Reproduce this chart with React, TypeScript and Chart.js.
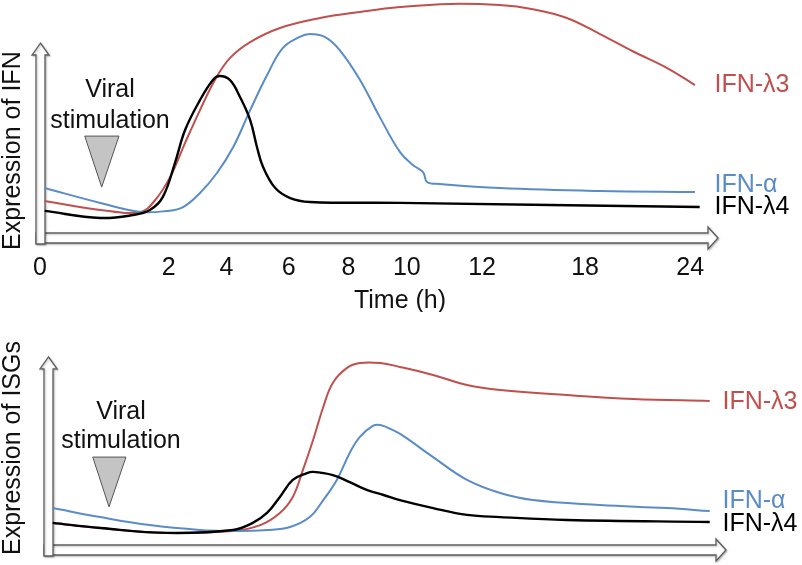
import { useEffect, useRef } from 'react';
import { Chart, registerables } from 'chart.js';

Chart.register(...registerables);

// ---- data ----
// Time axis of the schematic is not linear: tick labels (hours) at their axis positions (0-100 axis units)
const timeTickLabels = ['0', '2', '4', '6', '8', '10', '12', '18', '24'];
const timeTickPositions = [0, 19.0, 27.5, 36.7, 45.5, 54.1, 65.2, 80.4, 95.9];

const seriesNames = ['IFN-λ3', 'IFN-α', 'IFN-λ4'];

// Panel 1: expression of IFN — [axis position, relative expression (0-100)]
const ifnL3_IFN = [
  [0.7, 17.3], [8.9, 13.6], [14.8, 12.8], [17.0, 17.7], [19.2, 27.2], [21.4, 41.2],
  [23.6, 54.7], [25.8, 67.1], [28.0, 76.1], [31.0, 82.7], [35.4, 88.5], [41.3, 92.6],
  [47.2, 95.1], [53.1, 97.1], [60.5, 98.4], [67.8, 97.9], [72.7, 96.2], [77.7, 92.6],
  [82.6, 86.0], [87.5, 78.8], [92.5, 72.0], [96.6, 65.0],
];
const ifnA_IFN = [
  [0.7, 22.6], [8.9, 16.5], [14.8, 12.8], [18.7, 13.2], [21.1, 14.8], [23.6, 20.6],
  [26.1, 28.8], [28.5, 39.5], [31.0, 54.7], [33.5, 69.1], [35.8, 80.2], [38.3, 84.8],
  [39.8, 86.0], [42.0, 84.8], [44.2, 79.4], [47.2, 67.1], [50.1, 51.9], [53.1, 37.4],
  [55.0, 32.1], [56.5, 29.2], [57.1, 25.1], [59.0, 24.3], [67.8, 22.6], [82.6, 21.4],
  [96.6, 21.0],
];
const ifnL4_IFN = [
  [0.7, 13.2], [8.9, 10.3], [13.7, 11.5], [16.2, 13.6], [18.1, 18.9], [19.9, 32.9],
  [21.4, 46.5], [23.6, 58.8], [25.5, 67.1], [26.5, 68.7], [28.0, 67.1], [29.5, 60.1],
  [31.0, 50.6], [32.0, 39.5], [32.9, 31.3], [34.7, 22.6], [36.9, 18.5], [39.8, 16.9],
  [53.1, 16.5], [97.3, 14.8],
];

// Panel 2: expression of ISGs — [axis position, relative expression (0-100)]
const ifnL3_ISG = [
  [0.7, 13.2], [7.7, 11.1], [17.6, 9.1], [27.3, 9.9], [31.3, 12.3], [34.2, 17.3],
  [36.1, 23.9], [37.6, 35.0], [39.1, 47.3], [40.6, 60.9], [42.0, 70.8], [44.1, 77.0],
  [46.0, 79.0], [49.0, 79.0], [51.9, 77.4], [56.8, 74.1], [61.8, 70.0], [66.7, 67.9],
  [76.5, 65.8], [86.3, 64.2], [97.6, 63.4],
];
const ifnA_ISG = [
  [0.7, 19.3], [7.7, 15.6], [15.0, 12.3], [22.4, 10.3], [27.3, 9.9], [32.3, 10.3],
  [35.7, 11.5], [38.6, 15.6], [40.6, 22.6], [42.6, 30.9], [44.5, 42.0], [46.0, 48.6],
  [47.9, 53.1], [49.0, 53.5], [50.9, 51.4], [52.4, 49.0], [56.8, 40.3], [61.8, 30.9],
  [66.7, 25.5], [71.5, 22.6], [81.4, 20.6], [91.3, 19.3], [97.6, 18.1],
];
const ifnL4_ISG = [
  [0.7, 13.2], [7.7, 11.1], [17.6, 9.1], [27.3, 10.3], [30.2, 13.2], [32.3, 17.3],
  [34.2, 23.9], [36.1, 30.9], [38.2, 33.7], [39.1, 34.2], [42.0, 32.9], [44.5, 30.0],
  [47.1, 26.7], [49.5, 24.7], [51.9, 22.6], [56.8, 19.3], [61.8, 16.5], [66.7, 15.6],
  [76.5, 14.4], [97.6, 13.6],
];

// ---- styles ----
const RED = '#c0504d';
const BLUE = '#5a8cc7';
const BLACK = '#000000';
const FONT = "'Liberation Sans', Arial, Helvetica, sans-serif";

type Panel = {
  height: number;
  padding: { left: number; right: number; top: number; bottom: number };
  showTicks: boolean;
  yTitle: string;
  yTitleX: number;
  yTitleStart: number;
  xTitle?: string;
  xTitlePos?: [number, number];
  viralText: [number, number, number];
  triangle: [number, number, number, number, number];
  labelValues: number[];
  series: number[][][];
  arrowTop: number;
  yArrowExtra: number;
};

const panels: Panel[] = [
  {
    height: 312,
    padding: { left: 40, right: 84, top: 0, bottom: 18 },
    showTicks: true,
    yTitle: 'Expression of IFN',
    yTitleX: 13,
    yTitleStart: 250,
    xTitle: 'Time (h)',
    xTitlePos: [400, 301],
    viralText: [110, 90.5, 121],
    triangle: [6.6, 11.65, 44.0, 9.1, 23.0],
    labelValues: [65.0, 23.9, 14.6],
    series: [ifnL3_IFN, ifnA_IFN, ifnL4_IFN],
    arrowTop: 82.3,
    yArrowExtra: 1,
  },
  {
    height: 253,
    padding: { left: 48, right: 76, top: 0, bottom: 10 },
    showTicks: false,
    yTitle: 'Expression of ISGs',
    yTitleX: 13,
    yTitleStart: 243,
    viralText: [121, 100.5, 129.5],
    triangle: [6.6, 11.5, 40.3, 9.0, 19.8],
    labelValues: [63.0, 22.2, 12.8],
    series: [ifnL3_ISG, ifnA_ISG, ifnL4_ISG],
    arrowTop: 81.5,
    yArrowExtra: 1,
  },
];

function hArrow(ctx: CanvasRenderingContext2D, x0: number, xTip: number, yc: number) {
  const sh = 5, hh = 11, hl = 10;
  ctx.beginPath();
  ctx.moveTo(x0, yc - sh);
  ctx.lineTo(xTip - hl, yc - sh);
  ctx.lineTo(xTip - hl, yc - hh);
  ctx.lineTo(xTip, yc);
  ctx.lineTo(xTip - hl, yc + hh);
  ctx.lineTo(xTip - hl, yc + sh);
  ctx.lineTo(x0, yc + sh);
  ctx.closePath();
  ctx.fill();
  ctx.stroke();
}

function vArrow(ctx: CanvasRenderingContext2D, xc: number, y0: number, yTip: number) {
  const sh = 4.5, hh = 8.5, hl = 12;
  ctx.beginPath();
  ctx.moveTo(xc - sh, y0);
  ctx.lineTo(xc - sh, yTip + hl);
  ctx.lineTo(xc - hh, yTip + hl);
  ctx.lineTo(xc, yTip);
  ctx.lineTo(xc + hh, yTip + hl);
  ctx.lineTo(xc + sh, yTip + hl);
  ctx.lineTo(xc + sh, y0);
  ctx.closePath();
  ctx.fill();
  ctx.stroke();
}

function makePlugin(p: Panel) {
  return {
    id: 'schematic',
    beforeDatasetsDraw(chart: any) {
      const { ctx, chartArea: ca, scales } = chart;
      const y = scales.y;
      ctx.save();
      ctx.fillStyle = '#ffffff';
      ctx.strokeStyle = '#5f5f5f';
      ctx.lineWidth = 1.3;
      ctx.shadowColor = 'rgba(0,0,0,0.25)';
      ctx.shadowBlur = 2;
      ctx.shadowOffsetX = 1;
      ctx.shadowOffsetY = 1;
      hArrow(ctx, ca.left - 4, ca.right, ca.bottom - 5);
      vArrow(ctx, ca.left + 0.5, ca.bottom + p.yArrowExtra, y.getPixelForValue(p.arrowTop));
      ctx.restore();
    },
    afterDatasetsDraw(chart: any) {
      const { ctx, chartArea: ca, scales } = chart;
      const x = scales.x, y = scales.y;
      ctx.save();
      const [tl, tr, tv, ax, av] = p.triangle;
      ctx.beginPath();
      ctx.moveTo(x.getPixelForValue(tl), y.getPixelForValue(tv));
      ctx.lineTo(x.getPixelForValue(tr), y.getPixelForValue(tv));
      ctx.lineTo(x.getPixelForValue(ax), y.getPixelForValue(av));
      ctx.closePath();
      ctx.fillStyle = '#c4c4c4';
      ctx.fill();
      ctx.strokeStyle = '#555555';
      ctx.lineWidth = 1;
      ctx.stroke();

      ctx.font = `25px ${FONT}`;
      ctx.fillStyle = '#111111';
      ctx.textAlign = 'center';
      ctx.textBaseline = 'middle';
      ctx.fillText('Viral', p.viralText[0], p.viralText[1]);
      ctx.fillText('stimulation', p.viralText[0], p.viralText[2]);

      const colors = [RED, BLUE, BLACK];
      ctx.textAlign = 'left';
      seriesNames.forEach((name, i) => {
        ctx.fillStyle = colors[i];
        ctx.fillText(name, ca.right - 3.5, y.getPixelForValue(p.labelValues[i]));
      });

      if (p.xTitle && p.xTitlePos) {
        ctx.fillStyle = '#111111';
        ctx.textAlign = 'center';
        ctx.fillText(p.xTitle, p.xTitlePos[0], p.xTitlePos[1]);
      }

      ctx.translate(p.yTitleX, p.yTitleStart);
      ctx.rotate(-Math.PI / 2);
      ctx.fillStyle = '#111111';
      ctx.textAlign = 'left';
      ctx.fillText(p.yTitle, 0, 0);
      ctx.restore();
    },
  };
}

function PanelChart({ p }: { p: Panel }) {
  const ref = useRef<HTMLCanvasElement | null>(null);
  useEffect(() => {
    if (!ref.current) return;
    const toPts = (arr: number[][]) => arr.map(([a, b]) => ({ x: a, y: b }));
    const colors = [RED, BLUE, BLACK];
    const widths = [2, 2, 2.4];
    const order = [2, 1, 0];
    const datasets = order.map((i) => ({
      label: seriesNames[i],
      data: toPts(p.series[i]),
      borderColor: colors[i],
      borderWidth: widths[i],
      pointRadius: 0,
      fill: false,
      tension: 0.4,
    }));
    const chart = new Chart(ref.current, {
      type: 'line',
      data: { datasets },
      options: {
        animation: false,
        responsive: false,
        maintainAspectRatio: false,
        layout: { padding: p.padding },
        plugins: { legend: { display: false }, tooltip: { enabled: false }, title: { display: false } },
        scales: {
          x: {
            type: 'linear',
            min: 0,
            max: 100,
            display: p.showTicks,
            grid: { display: false, drawTicks: false },
            border: { display: false },
            afterBuildTicks: (s: any) => {
              s.ticks = timeTickPositions.map((v) => ({ value: v }));
            },
            ticks: {
              autoSkip: false,
              maxRotation: 0,
              minRotation: 0,
              padding: 10.5,
              color: '#111111',
              font: { size: 25, family: FONT },
              callback: (_v: any, i: number) => timeTickLabels[i],
            },
          },
          y: { type: 'linear', min: 0, max: 100, display: false },
        },
      },
      plugins: [makePlugin(p)],
    });
    return () => chart.destroy();
  }, [p]);
  return (
    <canvas
      ref={ref}
      width={802}
      height={p.height}
      style={{ display: 'block', width: 802, height: p.height }}
    />
  );
}

export default function App() {
  return (
    <div style={{ position: 'absolute', left: 0, top: 0, width: 802, height: 565, background: '#fff' }}>
      {panels.map((p, i) => (
        <PanelChart key={i} p={p} />
      ))}
    </div>
  );
}
